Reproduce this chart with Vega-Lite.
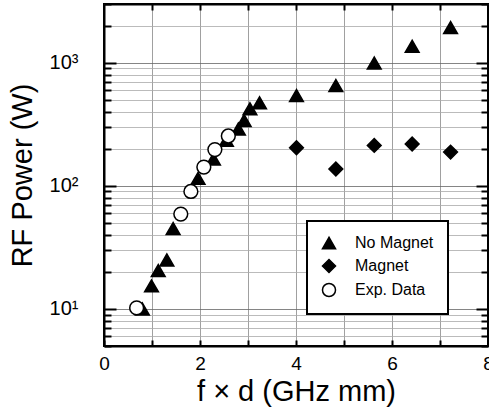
{
  "$schema": "https://vega.github.io/schema/vega-lite/v6.json",
  "autosize": {"type": "none"},
  "width": 384,
  "height": 342,
  "padding": {"left": 104, "top": 4, "right": 1, "bottom": 63},
  "background": "white",
  "config": {
    "font": "Liberation Sans",
    "view": {"stroke": "black", "strokeWidth": 2},
    "axis": {"labelFont": "Liberation Sans", "titleFont": "Liberation Sans", "labelColor": "black", "titleColor": "black", "domainColor": "black", "domainWidth": 2, "tickColor": "black", "tickWidth": 2},
    "legend": {"labelFont": "Liberation Sans", "strokeWidth": 2, "symbolStrokeWidth": 1.5}
  },
  "data": {
    "values": [
      {"fd": 0.8, "p": 10, "s": "No Magnet"},
      {"fd": 0.99, "p": 15.4, "s": "No Magnet"},
      {"fd": 1.13, "p": 20.5, "s": "No Magnet"},
      {"fd": 1.31, "p": 25, "s": "No Magnet"},
      {"fd": 1.44, "p": 45, "s": "No Magnet"},
      {"fd": 1.96, "p": 115, "s": "No Magnet"},
      {"fd": 2.28, "p": 165, "s": "No Magnet"},
      {"fd": 2.55, "p": 235, "s": "No Magnet"},
      {"fd": 2.8, "p": 290, "s": "No Magnet"},
      {"fd": 2.92, "p": 340, "s": "No Magnet"},
      {"fd": 3.04, "p": 423, "s": "No Magnet"},
      {"fd": 3.24, "p": 473, "s": "No Magnet"},
      {"fd": 4.01, "p": 542, "s": "No Magnet"},
      {"fd": 4.83, "p": 653, "s": "No Magnet"},
      {"fd": 5.63, "p": 995, "s": "No Magnet"},
      {"fd": 6.42, "p": 1360, "s": "No Magnet"},
      {"fd": 7.22, "p": 1930, "s": "No Magnet"},
      {"fd": 4.01, "p": 204, "s": "Magnet"},
      {"fd": 4.83, "p": 137, "s": "Magnet"},
      {"fd": 5.63, "p": 213, "s": "Magnet"},
      {"fd": 6.42, "p": 219, "s": "Magnet"},
      {"fd": 7.22, "p": 188, "s": "Magnet"},
      {"fd": 0.68, "p": 10.2, "s": "Exp. Data"},
      {"fd": 1.6, "p": 59, "s": "Exp. Data"},
      {"fd": 1.81, "p": 90, "s": "Exp. Data"},
      {"fd": 2.08, "p": 142, "s": "Exp. Data"},
      {"fd": 2.31, "p": 197, "s": "Exp. Data"},
      {"fd": 2.59, "p": 254, "s": "Exp. Data"}
    ]
  },
  "layer": [
    {
      "mark": {"type": "point", "filled": true, "strokeWidth": 1.5, "opacity": 1, "size": 190},
      "encoding": {
        "x": {"field": "fd", "type": "quantitative", "scale": {"domain": [0, 8], "nice": false},
          "axis": {"orient": "bottom", "values": [0,1,2,3,4,5,6,7,8], "labelExpr": "datum.value % 2 == 0 ? datum.label : ''", "labelFlush": false, "labelFontSize": 19, "labelPadding": 14, "tickSize": -6, "grid": true, "gridColor": "#888", "gridWidth": 0.8, "title": "f × d (GHz mm)", "titleFontSize": 29, "titleFontWeight": "normal", "titlePadding": 4}},
        "y": {"field": "p", "type": "quantitative", "scale": {"type": "log", "domain": [5, 3000], "nice": false},
          "axis": {"orient": "left", "values": [5,6,7,8,9,10,20,30,40,50,60,70,80,90,100,200,300,400,500,600,700,800,900,1000,2000,3000],
            "labelExpr": "datum.value == 1000 ? '10³' : datum.value == 100 ? '10²' : datum.value == 10 ? '10¹' : ''",
            "labelFontSize": 20, "labelPadding": 38, "tickSize": {"condition": {"test": "datum.value == 10 || datum.value == 100 || datum.value == 1000", "value": -12}, "value": -7},
            "grid": true, "gridColor": {"condition": {"test": "datum.value == 10 || datum.value == 100 || datum.value == 1000", "value": "#666"}, "value": "#aaa"}, "gridWidth": 0.8,
            "title": "RF Power (W)", "titleFontSize": 29, "titleFontWeight": "normal", "titlePadding": 12}},
        "shape": {"field": "s", "type": "nominal", "scale": {"domain": ["No Magnet", "Magnet", "Exp. Data"], "range": ["triangle-up", "diamond", "circle"]},
          "legend": {"title": null, "orient": "none", "legendX": 203, "legendY": 217, "strokeColor": "black", "padding": 14, "labelFontSize": 16, "labelColor": "black", "symbolSize": 170, "rowPadding": 4, "labelOffset": 18, "fillColor": "white"}},
        "fill": {"field": "s", "type": "nominal", "scale": {"domain": ["No Magnet", "Magnet", "Exp. Data"], "range": ["black", "black", "white"]},
          "legend": {"title": null, "orient": "none", "legendX": 203, "legendY": 217, "strokeColor": "black", "padding": 14, "labelFontSize": 16, "labelColor": "black", "symbolSize": 170, "rowPadding": 4, "labelOffset": 18, "fillColor": "white"}},
        "stroke": {"field": "s", "type": "nominal", "scale": {"domain": ["No Magnet", "Magnet", "Exp. Data"], "range": ["black", "black", "black"]},
          "legend": {"title": null, "orient": "none", "legendX": 203, "legendY": 217, "strokeColor": "black", "padding": 14, "labelFontSize": 16, "labelColor": "black", "symbolSize": 170, "rowPadding": 4, "labelOffset": 18, "fillColor": "white"}}
      }
    },
    {
      "mark": {"type": "point", "opacity": 0},
      "encoding": {
        "x": {"field": "fd", "type": "quantitative", "axis": {"orient": "top", "values": [1,2,3,4,5,6,7], "labels": false, "title": null, "grid": false, "tickSize": -6, "domain": true}},
        "y": {"field": "p", "type": "quantitative", "axis": {"orient": "right", "values": [5,6,7,8,9,10,20,30,40,50,60,70,80,90,100,200,300,400,500,600,700,800,900,1000,2000,3000], "labels": false, "title": null, "grid": false,
          "tickSize": {"condition": {"test": "datum.value == 10 || datum.value == 100 || datum.value == 1000", "value": -12}, "value": -7}}}
      }
    }
  ],
  "resolve": {"axis": {"x": "independent", "y": "independent"}}
}
